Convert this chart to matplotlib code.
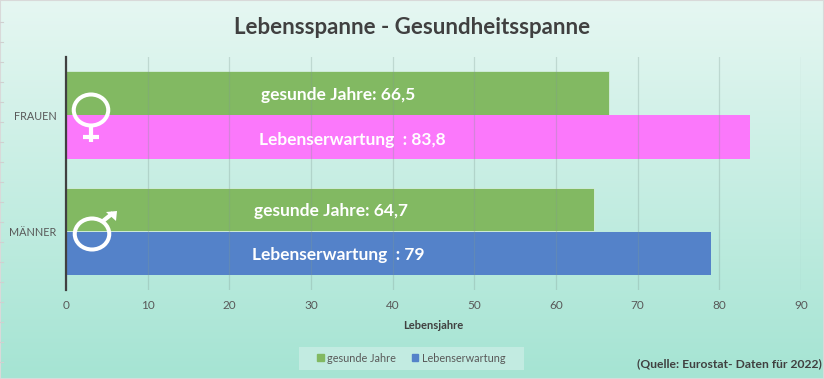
import numpy as np
import matplotlib
matplotlib.use("Agg")
import matplotlib.pyplot as plt
from matplotlib.patches import Ellipse, Patch, Rectangle, Polygon
from matplotlib.lines import Line2D
from matplotlib.transforms import Affine2D
from matplotlib.colors import LinearSegmentedColormap

plt.rcParams['font.family'] = ['Lato', 'DejaVu Sans']

categories = ["FRAUEN", "MÄNNER"]
healthy_years = [66.5, 64.7]
life_expectancy = [83.8, 79]
healthy_labels = ["gesunde Jahre: 66,5", "gesunde Jahre: 64,7"]
life_labels = ["Lebenserwartung  : 83,8", "Lebenserwartung  : 79"]
life_label_x = [35.0, 33.3]
healthy_label_x = [33.3, 32.4]
x_ticks = list(range(0, 100, 10))

W, H = 824, 379
fig = plt.figure(figsize=(W / 100, H / 100), dpi=100)

# background gradient
bg = fig.add_axes([0, 0, 1, 1], zorder=0)
cmap = LinearSegmentedColormap.from_list("bg", ["#e6f7f2", "#a5e4d3"])
bg.imshow(np.linspace(0, 1, 256).reshape(-1, 1), aspect="auto", cmap=cmap, extent=[0, 1, 0, 1])
bg.set_axis_off()

ax = fig.add_axes([66 / W, 1 - 290 / H, (801 - 66) / W, 233 / H], zorder=1)
ax.patch.set_alpha(0)
y = np.arange(len(categories))
h = 0.372
ax.barh(y - h / 2 - 0.004, healthy_years, height=h, color="#82b962", edgecolor="#d4efdf", linewidth=0.6, zorder=2)
ax.barh(y + h / 2 + 0.002, life_expectancy, height=h, color=["#fb78fb", "#5482c9"], linewidth=0, zorder=2)

ax.set_xlim(0, 90)
ax.set_ylim(1.5, -0.5)
ax.set_yticks(y, categories)
ax.set_xticks(x_ticks)
ax.tick_params(axis="both", length=0, labelsize=8.5, labelcolor="#595959")
ax.tick_params(axis="y", labelsize=7.8, pad=7)
ax.tick_params(axis="x", pad=7)
ax.grid(axis="x", color="#7f9a93", alpha=0.3, linewidth=0.9, zorder=3)
ax.set_axisbelow(False)
for s in ["top", "right", "bottom"]:
    ax.spines[s].set_visible(False)
ax.spines["left"].set_color("#404040")
ax.spines["left"].set_linewidth(1.6)
ax.spines["left"].set_zorder(5)
ax.set_xlabel("Lebensjahre", fontsize=8, fontweight="bold", color="#404040", labelpad=7)

healthy_dy = [0.015, 0.01]
life_dy = [0.03, 0.01]
for i in range(2):
    ax.text(healthy_label_x[i], y[i] - h / 2 + healthy_dy[i], healthy_labels[i], color="white", fontsize=12.5,
            fontweight="bold", ha="center", va="center", zorder=6)
    ax.text(life_label_x[i], y[i] + h / 2 + life_dy[i], life_labels[i], color="white", fontsize=12.5,
            fontweight="bold", ha="center", va="center", zorder=6)

fig.text(412 / W, 1 - 27 / H, "Lebensspanne - Gesundheitsspanne", ha="center", va="center",
         fontsize=16, fontweight="bold", color="#404040")

# gender symbols, in pixel coordinates
px = Affine2D().scale(1, -1).translate(0, H)
def add(a):
    a.set_transform(px)
    a.set_zorder(7)
    fig.add_artist(a)
add(Ellipse((91, 110), 34.5, 31, fill=False, ec="white", lw=2.9))
add(Line2D([91, 91], [126, 142], color="white", lw=3, solid_capstyle="butt"))
add(Line2D([83, 99], [136.5, 136.5], color="white", lw=3, solid_capstyle="butt"))
add(Ellipse((92, 234), 34.5, 31, fill=False, ec="white", lw=2.9))
add(Line2D([103, 113], [221, 213], color="white", lw=3, solid_capstyle="butt"))
add(Polygon([[106, 212], [117, 211], [116, 221]], closed=True, fc="white", ec="none"))

# legend
fig.add_artist(Rectangle((299 / W, 1 - 370 / H), 225 / W, 23 / H, transform=fig.transFigure,
                         fc="#c2ebe1", ec="none", zorder=2))
handles = [Patch(color="#82b962", label="gesunde Jahre"), Patch(color="#5482c9", label="Lebenserwartung")]
leg = fig.legend(handles=handles, loc="center", bbox_to_anchor=(411.5 / W, 1 - 358 / H), ncol=2, frameon=False,
                 fontsize=7.8, handlelength=0.6, handleheight=0.6, handletextpad=0.35, columnspacing=1.45,
                 labelcolor="#595959")
leg.set_zorder(3)

fig.text(822 / W, 1 - 364 / H, "(Quelle: Eurostat- Daten für 2022)", ha="right", va="center",
         fontsize=8.7, fontweight="bold", color="#404040")

# chart edge
bg.add_patch(Rectangle((0, 0), 1, 1, transform=bg.transAxes, fill=False, ec="#d9d9d9", lw=1.5))
for yy in range(22, 379, 20):
    add(Line2D([0, 3], [yy, yy], color="#d0d0d0", lw=0.8))

fig.savefig("out.png", dpi=100)
